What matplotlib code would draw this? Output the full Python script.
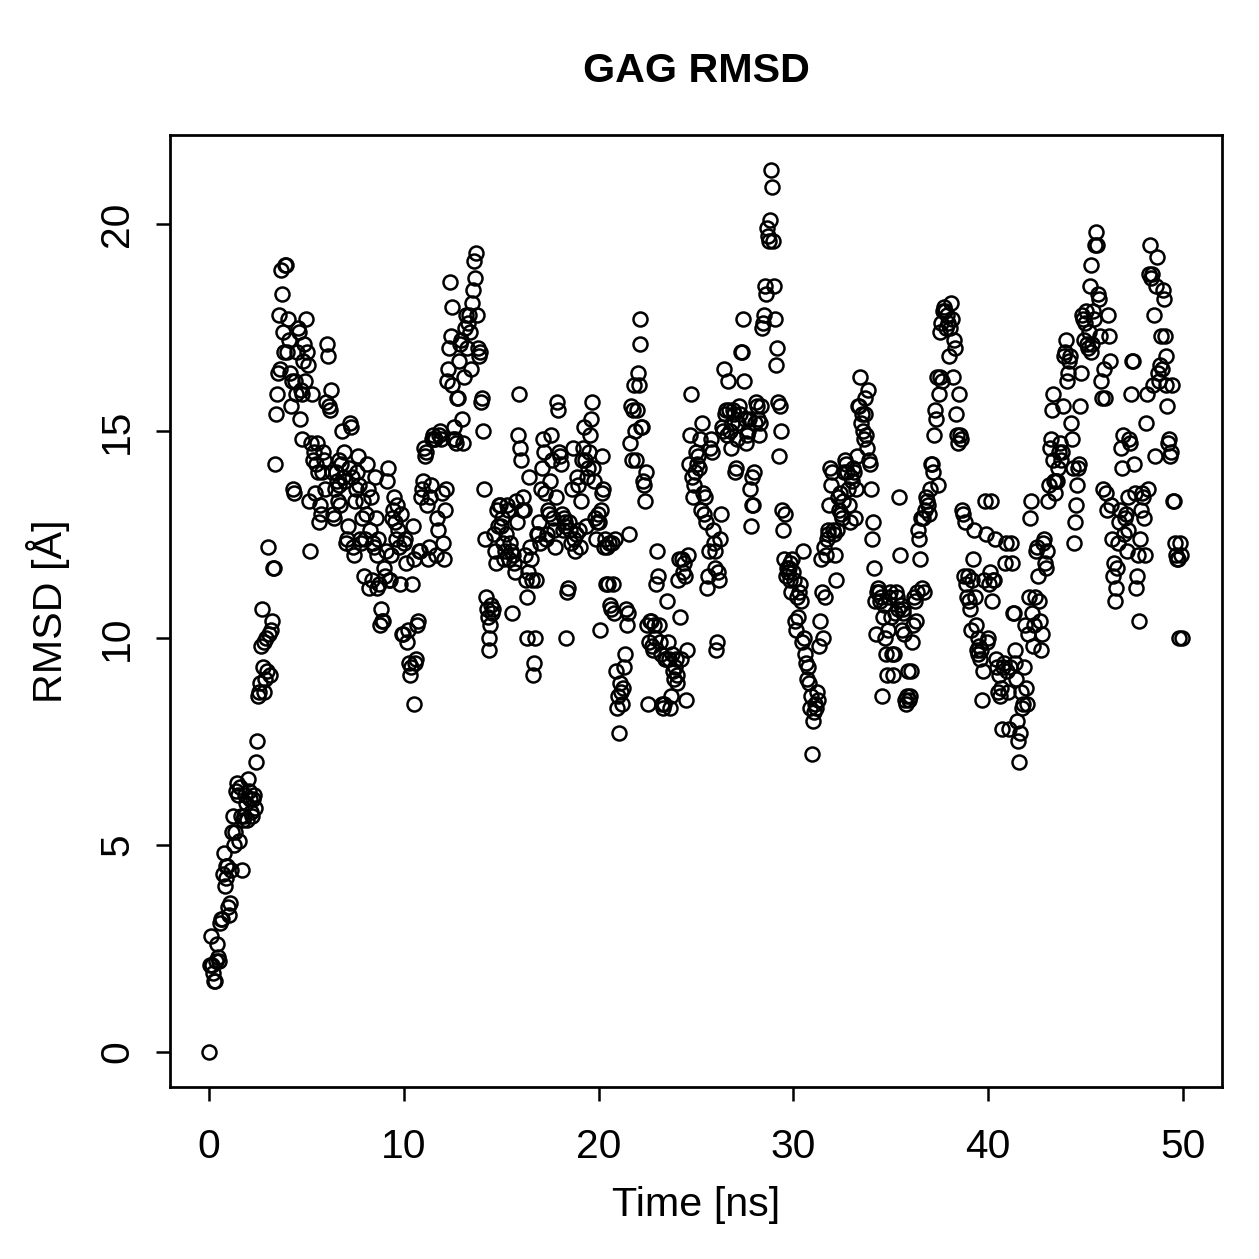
# GAG RMSD の散布図（R風のスタイル）
import numpy as np
import matplotlib.pyplot as plt

plt.rcParams['font.family'] = ['Liberation Sans', 'DejaVu Sans']

# サンプリング間隔 [ns]
dt = 0.05

# RMSD [Å]（1行 = 1 ns 分、20点）
rmsd = [
    0.0, 2.1, 2.8, 2.1, 1.9, 1.7, 1.7, 2.2, 2.6, 2.3, 2.2, 3.1, 3.2, 3.2, 4.3, 4.8, 4.0, 4.5, 4.2, 4.5,
    3.5, 3.3, 3.6, 4.4, 5.3, 5.7, 5.0, 5.3, 6.3, 6.5, 6.2, 5.1, 6.4, 5.7, 4.4, 5.6, 5.7, 6.2, 6.0, 5.6,
    6.6, 6.3, 6.1, 5.8, 5.7, 6.1, 6.2, 5.9, 7.0, 7.5, 8.6, 8.7, 8.9, 9.8, 10.7, 9.3, 9.9, 8.7, 9.0, 10.0,
    9.2, 12.2, 10.1, 9.1, 10.2, 10.4, 11.7, 11.7, 14.2, 15.4, 15.9, 16.4, 17.8, 16.5, 18.9, 18.3, 17.4, 16.9, 19.0, 19.0,
    16.9, 17.7, 17.2, 16.4, 15.6, 16.2, 13.6, 13.5, 16.2, 15.9, 16.9, 17.5, 17.4, 15.3, 16.0, 14.8, 15.9, 16.7, 17.1, 16.2,
    17.7, 16.9, 16.6, 13.3, 12.1, 14.7, 15.9, 14.3, 14.5, 13.5, 14.2, 14.7, 14.0, 12.8, 13.2, 13.0, 14.0, 14.5, 14.3, 13.6,
    15.7, 17.1, 16.8, 15.6, 15.5, 16.0, 14.0, 13.0, 12.9, 13.6, 14.0, 13.8, 13.3, 14.3, 13.7, 13.2, 14.2, 15.0, 13.9, 14.5,
    13.8, 12.3, 12.4, 12.7, 14.1, 15.2, 15.1, 13.9, 12.2, 12.0, 13.3, 13.6, 14.0, 14.4, 13.7, 12.4, 12.3, 12.9, 13.3, 11.5,
    12.4, 13.0, 14.2, 13.6, 11.2, 12.6, 13.4, 11.4, 12.3, 12.2, 13.9, 12.9, 11.2, 12.0, 12.4, 11.3, 10.3, 10.7, 10.4, 10.4,
    11.7, 11.5, 12.1, 13.8, 14.1, 11.4, 11.4, 12.0, 12.9, 13.1, 13.4, 12.8, 12.4, 13.2, 12.6, 12.2, 11.3, 13.0, 10.1, 10.1,
    12.3, 12.4, 11.8, 9.9, 10.2, 9.4, 9.1, 9.3, 11.3, 12.7, 11.9, 8.4, 9.4, 9.5, 10.3, 10.4, 12.1, 12.1, 13.4, 13.6,
    13.8, 14.6, 14.4, 14.5, 13.2, 11.9, 12.2, 13.4, 13.7, 14.8, 14.9, 14.8, 14.8, 12.0, 12.9, 12.6, 14.9, 15.0, 14.8, 13.5,
    12.3, 11.9, 13.1, 13.6, 16.2, 16.5, 17.0, 18.6, 17.3, 18.0, 16.1, 14.8, 15.1, 14.8, 14.7, 15.8, 15.8, 16.7, 17.1, 17.2,
    15.3, 14.7, 16.3, 17.5, 17.8, 17.0, 17.6, 17.8, 17.4, 16.5, 18.1, 18.4, 19.1, 18.7, 19.3, 17.8, 17.0, 16.8, 16.9, 15.7,
    15.8, 15.0, 13.6, 12.4, 11.0, 10.7, 10.5, 10.0, 9.7, 10.3, 10.8, 10.6, 10.7, 12.5, 12.1, 11.8, 13.1, 12.7, 13.2, 13.2,
    12.7, 12.9, 12.3, 11.9, 12.1, 12.5, 13.2, 13.1, 11.9, 12.3, 12.1, 10.6, 12.0, 11.8, 11.6, 13.3, 12.8, 14.9, 15.9, 14.6,
    14.3, 13.1, 13.4, 13.1, 12.0, 11.4, 10.0, 11.0, 11.6, 13.9, 12.2, 11.9, 11.4, 9.1, 9.4, 10.0, 11.4, 12.5, 12.5, 12.8,
    12.3, 13.6, 14.1, 14.8, 14.5, 13.5, 12.4, 12.5, 13.1, 13.0, 13.8, 14.9, 14.3, 12.9, 12.6, 12.2, 13.4, 15.7, 15.5, 14.5,
    14.4, 14.2, 13.0, 12.6, 12.9, 12.7, 12.8, 10.0, 11.1, 11.2, 12.8, 12.6, 12.3, 13.6, 14.6, 12.4, 12.1, 12.5, 13.9, 13.7,
    12.6, 12.2, 13.3, 14.3, 14.6, 15.1, 14.3, 12.7, 13.9, 14.1, 14.5, 14.9, 15.3, 15.7, 14.1, 13.8, 12.9, 12.4, 12.8, 13.0,
    12.8, 10.2, 13.1, 14.4, 13.5, 13.6, 12.2, 12.4, 11.3, 12.2, 11.3, 12.3, 10.8, 10.7, 12.3, 11.3, 10.6, 12.4, 9.2, 8.3,
    8.6, 7.7, 8.9, 8.7, 8.4, 8.8, 9.3, 9.6, 10.7, 10.3, 10.6, 12.5, 14.7, 15.6, 14.3, 15.5, 16.1, 15.0, 14.3, 15.5,
    16.4, 16.1, 17.1, 17.7, 15.1, 15.1, 13.8, 13.7, 13.3, 14.0, 10.3, 8.4, 9.9, 10.4, 10.4, 9.8, 9.7, 10.3, 10.0, 11.3,
    12.1, 11.5, 10.3, 9.9, 9.6, 8.4, 8.3, 8.4, 9.5, 9.5, 10.9, 9.9, 9.5, 8.3, 8.6, 9.6, 9.2, 9.0, 9.3, 9.5,
    9.1, 8.9, 11.4, 11.9, 10.5, 9.5, 11.9, 11.6, 11.8, 11.5, 8.5, 9.7, 12.0, 14.2, 14.9, 15.9, 13.9, 13.4, 13.7, 14.0,
    14.5, 14.2, 14.4, 14.1, 14.8, 13.1, 15.2, 13.5, 13.0, 13.4, 12.8, 11.2, 11.5, 12.1, 14.6, 14.8, 14.5, 12.6, 12.3, 12.1,
    11.7, 9.7, 9.9, 11.6, 11.4, 12.4, 13.0, 15.1, 15.0, 16.5, 15.4, 15.5, 14.9, 16.2, 15.5, 15.0, 14.6, 15.2, 15.5, 15.4,
    14.0, 14.1, 14.8, 15.2, 15.6, 15.4, 16.9, 16.9, 17.7, 16.2, 15.3, 14.7, 14.9, 15.0, 15.3, 13.6, 12.7, 13.2, 13.9, 13.2,
    14.0, 15.2, 15.7, 15.6, 15.3, 14.9, 15.2, 15.6, 17.5, 17.6, 17.8, 18.5, 18.3, 19.9, 19.7, 19.6, 20.1, 21.3, 20.9, 19.6,
    18.5, 17.7, 16.6, 17.0, 15.7, 14.4, 15.6, 15.0, 13.1, 12.6, 11.9, 13.0, 11.5, 11.7, 11.6, 11.7, 11.4, 11.8, 11.1, 11.9,
    11.6, 11.4, 10.4, 10.2, 11.0, 10.5, 11.1, 11.3, 10.9, 9.9, 12.1, 10.0, 9.6, 9.4, 9.0, 9.3, 8.9, 8.3, 8.6, 7.2,
    8.0, 8.2, 8.4, 8.3, 8.7, 8.5, 9.8, 10.4, 11.9, 11.1, 10.0, 12.2, 11.0, 12.0, 12.4, 12.6, 12.5, 13.2, 14.1, 13.7,
    14.0, 12.6, 12.5, 12.0, 11.4, 12.6, 13.4, 13.1, 13.5, 13.0, 12.9, 13.3, 14.0, 14.3, 14.2, 14.0, 13.6, 13.2, 12.8, 13.9,
    13.8, 14.1, 14.0, 12.9, 13.6, 14.4, 15.6, 15.6, 16.3, 15.2, 15.4, 15.0, 14.8, 15.8, 15.4, 14.9, 14.6, 16.0, 14.3, 14.2,
    13.6, 12.4, 12.8, 11.7, 10.9, 10.1, 11.1, 11.2, 11.1, 10.9, 11.0, 8.6, 10.5, 10.8, 10.0, 9.6, 9.1, 10.2, 11.0, 11.1,
    10.5, 9.6, 9.1, 9.6, 10.6, 11.1, 11.0, 10.7, 13.4, 12.0, 10.8, 10.2, 10.6, 10.7, 10.1, 8.5, 8.4, 8.6, 9.2, 8.5,
    8.6, 9.2, 9.9, 10.3, 11.0, 10.9, 10.4, 11.1, 12.6, 12.4, 11.9, 12.9, 11.2, 12.9, 11.1, 13.1, 13.4, 13.3, 13.2, 13.0,
    13.6, 14.2, 14.2, 14.0, 14.9, 15.5, 15.3, 16.3, 13.7, 15.9, 16.3, 17.4, 17.6, 16.2, 17.9, 18.0, 17.9, 17.5, 17.8, 17.6,
    16.8, 17.5, 18.1, 17.7, 16.3, 17.2, 17.0, 15.4, 14.9, 14.7, 15.9, 14.9, 14.8, 13.1, 13.0, 11.5, 12.8, 11.3, 11.0, 11.5,
    10.9, 10.7, 10.2, 11.4, 11.9, 12.6, 11.0, 10.3, 9.7, 9.6, 10.0, 9.8, 9.5, 9.7, 8.5, 9.2, 11.4, 13.3, 12.5, 9.9,
    10.0, 11.3, 11.6, 13.3, 10.9, 11.4, 11.4, 12.4, 9.5, 9.3, 8.7, 9.1, 8.6, 8.8, 7.8, 9.3, 9.4, 11.8, 12.3, 9.2,
    8.7, 7.8, 9.3, 12.3, 11.8, 10.6, 10.6, 9.7, 9.4, 9.0, 8.0, 7.5, 7.0, 7.7, 8.7, 8.3, 8.4, 9.3, 10.3, 8.8,
    8.4, 10.1, 11.0, 12.9, 13.3, 10.6, 9.8, 10.3, 11.0, 12.1, 12.2, 11.5, 10.9, 10.4, 9.7, 10.1, 12.3, 12.4, 11.8, 11.7,
    12.1, 13.3, 13.7, 14.6, 14.8, 15.5, 15.9, 14.3, 13.8, 13.5, 13.8, 13.8, 14.1, 14.5, 14.7, 14.3, 14.5, 15.6, 16.8, 16.9,
    17.2, 16.2, 16.4, 16.7, 16.8, 15.2, 14.8, 14.1, 12.3, 12.8, 13.2, 13.7, 14.1, 14.2, 15.6, 16.4, 17.8, 17.7, 17.2, 17.6,
    17.9, 17.1, 17.0, 17.4, 18.5, 19.0, 16.9, 17.1, 17.9, 17.7, 19.5, 19.8, 19.5, 18.3, 18.2, 17.3, 16.2, 15.8, 13.6, 16.5,
    15.8, 13.5, 13.1, 17.8, 17.3, 16.7, 13.2, 12.4, 11.5, 11.8, 10.9, 11.2, 11.7, 12.3, 12.8, 13.1, 14.6, 14.1, 14.9, 12.5,
    12.9, 13.0, 12.1, 12.6, 13.4, 14.8, 14.7, 15.9, 16.7, 16.7, 14.2, 13.5, 11.2, 11.5, 12.0, 10.4, 12.4, 13.1, 13.5, 13.4,
    12.9, 12.0, 15.2, 15.9, 13.6, 18.8, 19.5, 18.7, 18.8, 16.1, 17.8, 14.4, 18.5, 19.2, 16.4, 16.2, 16.6, 17.3, 16.5, 18.4,
    18.2, 17.3, 16.8, 16.1, 15.6, 14.7, 14.8, 14.4, 14.5, 16.1, 13.3, 13.3, 12.3, 12.0, 11.9, 11.9, 10.0, 12.3, 12.0, 10.0,
]

xticks = [0, 10, 20, 30, 40, 50]
yticks = [0, 5, 10, 15, 20]

time = np.arange(len(rmsd)) * dt

fig = plt.figure(figsize=(1259 / 180, 1259 / 180), dpi=180)
ax = fig.add_axes([170 / 1259, 1 - 1087 / 1259, (1222 - 170) / 1259, (1087 - 135) / 1259])

ax.plot(time, rmsd, linestyle='none', marker='o', markersize=5.6,
        markerfacecolor='none', markeredgecolor='black', markeredgewidth=1.0)

ax.set_xlim(-2, 52)
ax.set_ylim(-0.852, 22.152)
ax.set_xticks(xticks)
ax.set_yticks(yticks)
ax.set_yticklabels([str(v) for v in yticks], rotation=90, va='center')
ax.tick_params(direction='out', length=5.6, width=1.0, labelsize=16.3, pad=11)
ax.tick_params(axis='y', pad=8)
for s in ax.spines.values():
    s.set_linewidth(1.1)

ax.set_title('GAG RMSD', fontsize=16.5, fontweight='bold', pad=21)
ax.set_xlabel('Time [ns]', fontsize=16.5, labelpad=8)
ax.set_ylabel('RMSD [Å]', fontsize=16.5, labelpad=11)

fig.savefig('out.png', dpi=180)
